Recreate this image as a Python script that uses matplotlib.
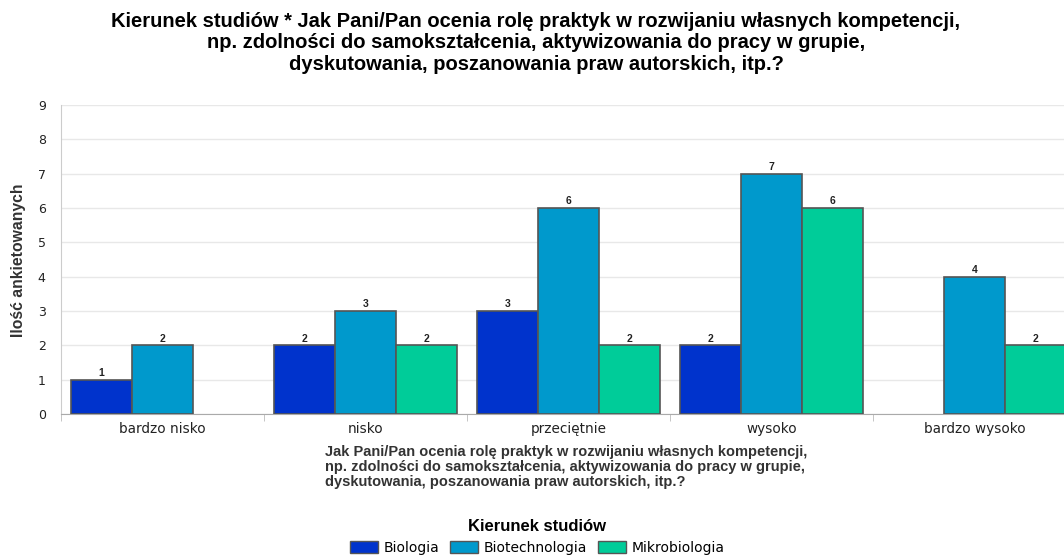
import numpy as np
import matplotlib.pyplot as plt
from matplotlib.patches import Patch

# dane z wykresu
kategorie = ["bardzo nisko", "nisko", "przeciętnie", "wysoko", "bardzo wysoko"]
biologia = [1, 2, 3, 2, 0]
biotechnologia = [2, 3, 6, 7, 4]
mikrobiologia = [0, 2, 2, 6, 2]
serie = ["Biologia", "Biotechnologia", "Mikrobiologia"]
kolory = ["#0033cc", "#0099cc", "#00cc99"]

tytul = ("Kierunek studiów * Jak Pani/Pan ocenia rolę praktyk w rozwijaniu własnych kompetencji,\n"
         "np. zdolności do samokształcenia, aktywizowania do pracy w grupie,\n"
         "dyskutowania, poszanowania praw autorskich, itp.?")
opis_x = ("Jak Pani/Pan ocenia rolę praktyk w rozwijaniu własnych kompetencji,\n"
          "np. zdolności do samokształcenia, aktywizowania do pracy w grupie,\n"
          "dyskutowania, poszanowania praw autorskich, itp.?")

W, H = 1064, 556
fig = plt.figure(figsize=(W / 100, H / 100), dpi=100)
# os wychodzi poza prawa krawedz jak w oryginale
ax = fig.add_axes([61 / W, (H - 414) / H, (1076 - 61) / W, 309 / H])

x = np.arange(len(kategorie))
szer = 0.3
for i, (vals, nazwa, kol) in enumerate(zip([biologia, biotechnologia, mikrobiologia], serie, kolory)):
    pos = x + (i - 1) * szer
    for p, v in zip(pos, vals):
        if v == 0:
            continue
        ax.bar(p, v, szer, color=kol, edgecolor="#555555", linewidth=1.2, zorder=3)
        ax.text(p, v + 0.05, str(v), ha="center", va="bottom", fontsize=7.5,
                fontweight="bold", family="Liberation Sans", color="#222222")

ax.set_xlim(-0.5, len(kategorie) - 0.5)
ax.set_ylim(0, 9)
ax.set_yticks(range(10))
ax.set_xticks(x)
ax.set_xticklabels(kategorie, fontsize=9.8, color="#222222")
ax.set_xticks(np.arange(len(kategorie) + 1) - 0.5, minor=True)
ax.tick_params(axis="x", which="major", length=0, pad=6)
ax.tick_params(axis="x", which="minor", length=5, color="#bbbbbb")
ax.tick_params(axis="y", length=0, labelsize=9, labelcolor="#222222", pad=11)

ax.yaxis.grid(True, color="#e8e8e8", linewidth=1, zorder=0)
ax.set_axisbelow(True)
for s in ["top", "right"]:
    ax.spines[s].set_visible(False)
ax.spines["left"].set_color("#cccccc")
ax.spines["bottom"].set_color("#aaaaaa")

fig.text(19 / W, 1 - 260 / H, "Ilość ankietowanych", rotation=90, ha="center", va="center",
         fontsize=11.3, fontweight="bold", family="Liberation Sans", color="#333333")

fig.text(536 / W, 1 - 12 / H, tytul, ha="center", va="top", fontsize=14.5,
         fontweight="bold", family="Liberation Sans", linespacing=1.15)
fig.text(325 / W, 1 - 445 / H, opis_x, ha="left", va="top", fontsize=10.5,
         fontweight="bold", family="Liberation Sans", color="#333333", linespacing=1.1)

uchwyty = [Patch(facecolor=k, edgecolor="#555555", label=n) for k, n in zip(kolory, serie)]
leg = fig.legend(handles=uchwyty, loc="center", bbox_to_anchor=(537 / W, 1 - 537 / H),
                 ncol=3, frameon=False, fontsize=10, title="Kierunek studiów",
                 handlelength=2.0, handleheight=0.9, columnspacing=0.8, handletextpad=0.4)
leg.get_title().set_fontweight("bold")
leg.get_title().set_fontsize(12)
leg.get_title().set_family("Liberation Sans")

fig.savefig("out.png", dpi=100)
